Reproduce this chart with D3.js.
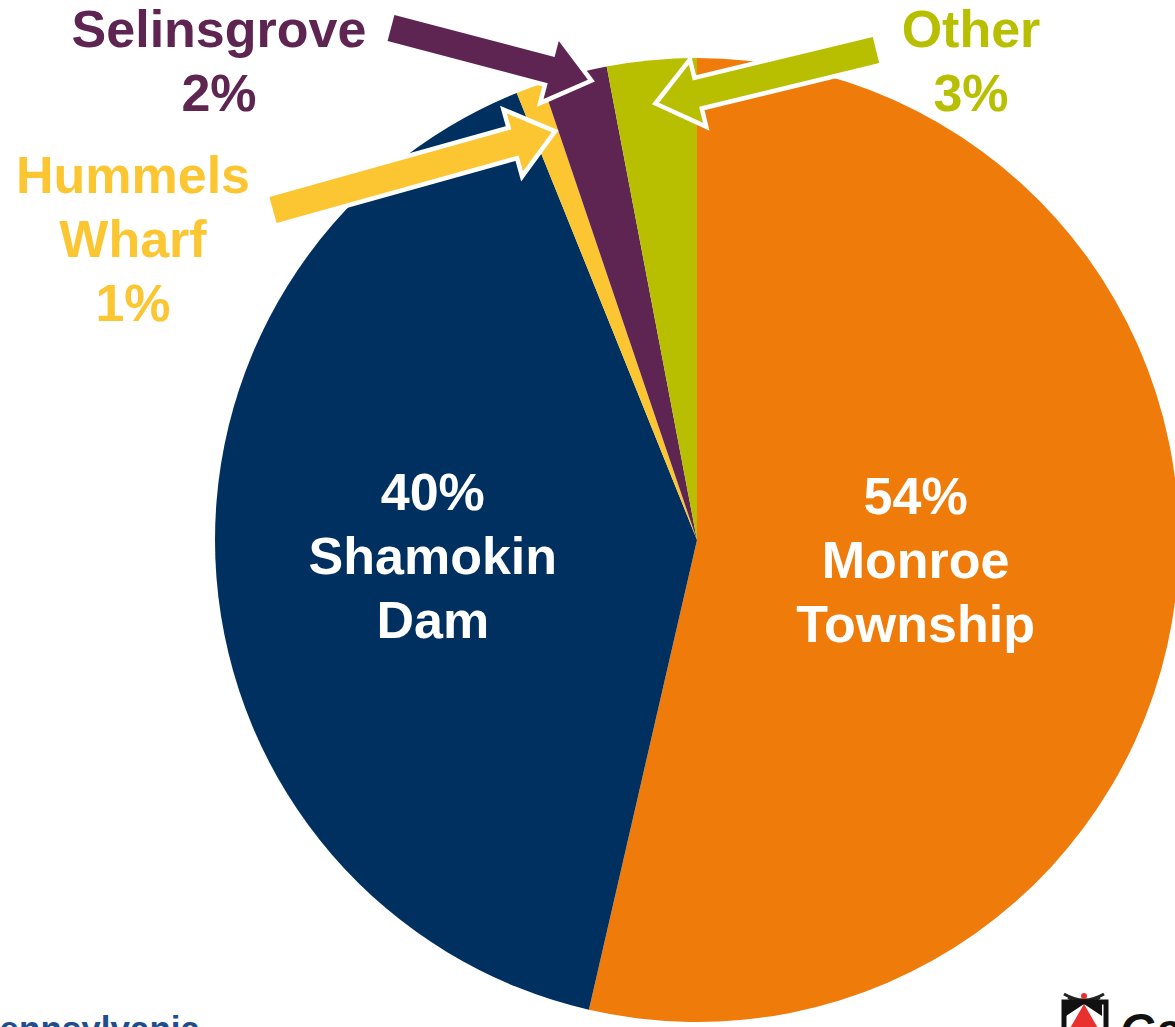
<!DOCTYPE html>
<html>
<head>
<meta charset="utf-8">
<script src="https://cdn.jsdelivr.net/npm/d3@7"></script>
<style>
  html, body { margin: 0; padding: 0; background: #fff; overflow: hidden; }
  svg { display: block; }
</style>
</head>
<body>
<div id="resultDiv"></div>
<script>
// slice order, clockwise from 12 o'clock
const places = ["Monroe Township", "Shamokin Dam", "Hummels Wharf", "Selinsgrove", "Other"];
const shares = [53.6, 40.3, 0.9, 2.2, 3.0];
const shareLabels = ["54%", "40%", "1%", "2%", "3%"]; // as printed
const labelLines = [
  ["54%", "Monroe", "Township"],
  ["40%", "Shamokin", "Dam"],
  ["Hummels", "Wharf", "1%"],
  ["Selinsgrove", "2%"],
  ["Other", "3%"]
];
const colors = ["#EF7B0B", "#003060", "#FBC631", "#5F2552", "#B7BF00"];

const width = 1175;
const height = 1027;
const cx = 697, cy = 540, radius = 482;

// inside labels: radius of label centroid
const insideLabelRadius = { 0: 220, 1: 265 };
// outside labels + arrows
const callouts = {
  2: { label: [133, 193], tail: [273, 210], t: 0.72, r: 433 },
  3: { label: [219, 47], tail: [391, 28], t: 0.68, r: 473 },
  4: { label: [971, 47], tail: [876, 50], t: 0.54, r: 439 }
};

const font = "Arial, 'Liberation Sans', Helvetica, sans-serif";
const lineGap = 64;

const svg = d3.select("#resultDiv")
  .append("svg")
  .attr("width", width)
  .attr("height", height);

const data = places.map((p, i) => ({ place: p, value: shares[i], idx: i }));

const pie = d3.pie().sort(null).value(d => d.value);
const arcs = pie(data);

const arc = d3.arc().innerRadius(0).outerRadius(radius);

const g = svg.append("g").attr("transform", "translate(" + cx + "," + cy + ")");

g.selectAll("path.slice")
  .data(arcs)
  .join("path")
  .attr("class", "slice")
  .attr("fill", d => colors[d.data.idx])
  .attr("d", arc);

// labels inside the two big slices
arcs.filter(d => insideLabelRadius[d.data.idx] !== undefined).forEach(d => {
  const r = insideLabelRadius[d.data.idx];
  const c = d3.arc().innerRadius(r).outerRadius(r).centroid(d);
  const t = g.append("text")
    .attr("text-anchor", "middle")
    .attr("font-family", font)
    .attr("font-weight", "bold")
    .attr("font-size", 52)
    .attr("fill", "#fff");
  labelLines[d.data.idx].forEach((line, k) => {
    t.append("tspan")
      .attr("x", c[0])
      .attr("y", c[1] + 13 + (k - 1) * lineGap)
      .text(line);
  });
});

// arrows for the small slices
function arrowPath(tail, tip) {
  const dx = tip[0] - tail[0], dy = tip[1] - tail[1];
  const len = Math.hypot(dx, dy);
  const ux = dx / len, uy = dy / len;
  const nx = -uy, ny = ux;
  const shaft = 13.5, head = 30, headLen = 38;
  const bx = tip[0] - ux * headLen, by = tip[1] - uy * headLen;
  const pts = [
    [tail[0] + nx * shaft, tail[1] + ny * shaft],
    [bx + nx * shaft, by + ny * shaft],
    [bx + nx * head, by + ny * head],
    tip,
    [bx - nx * head, by - ny * head],
    [bx - nx * shaft, by - ny * shaft],
    [tail[0] - nx * shaft, tail[1] - ny * shaft]
  ];
  return d3.line()(pts) + "Z";
}

arcs.filter(d => callouts[d.data.idx]).forEach(d => {
  const c = callouts[d.data.idx];
  const a = d.startAngle + (d.endAngle - d.startAngle) * c.t;
  const tip = [cx + c.r * Math.sin(a), cy - c.r * Math.cos(a)];

  svg.append("path")
    .attr("d", arrowPath(c.tail, tip))
    .attr("fill", colors[d.data.idx])
    .attr("stroke", "#fff")
    .attr("stroke-width", 9)
    .attr("stroke-linejoin", "miter")
    .attr("stroke-miterlimit", 10)
    .attr("paint-order", "stroke");

  const t = svg.append("text")
    .attr("text-anchor", "middle")
    .attr("font-family", font)
    .attr("font-weight", "bold")
    .attr("font-size", 52)
    .attr("fill", colors[d.data.idx]);
  labelLines[d.data.idx].forEach((line, k) => {
    t.append("tspan")
      .attr("x", c.label[0])
      .attr("y", c.label[1] + k * lineGap)
      .text(line);
  });
});

// page footer bits (cut off by the slide edge)
svg.append("text")
  .attr("x", 200)
  .attr("y", 1041)
  .attr("text-anchor", "end")
  .attr("font-family", font)
  .attr("font-weight", "bold")
  .attr("font-size", 35)
  .attr("fill", "#1F4E8C")
  .text("Pennsylvania");

const logo = svg.append("g");
logo.append("path")
  .attr("d", "M1064,994 Q1084,1006 1104,994")
  .attr("fill", "none")
  .attr("stroke", "#222")
  .attr("stroke-width", 3);
logo.append("path")
  .attr("d", "M1068,998 Q1084,1008 1100,998")
  .attr("fill", "none")
  .attr("stroke", "#222")
  .attr("stroke-width", 2);
logo.append("circle").attr("cx", 1084).attr("cy", 996).attr("r", 3).attr("fill", "#E8312F");
logo.append("rect")
  .attr("x", 1064).attr("y", 1002).attr("width", 42).attr("height", 40)
  .attr("fill", "#fff").attr("stroke", "#111").attr("stroke-width", 5);
logo.append("path")
  .attr("d", "M1084,1004 L1069,1030 L1099,1030 Z")
  .attr("fill", "#E8312F");
logo.append("path")
  .attr("d", "M1066,1016 L1084,1004 L1066,1004 Z M1102,1016 L1084,1004 L1102,1004 Z")
  .attr("fill", "#111");

svg.append("text")
  .attr("x", 1120)
  .attr("y", 1046)
  .attr("font-family", font)
  .attr("font-weight", "bold")
  .attr("font-style", "italic")
  .attr("font-size", 46)
  .attr("fill", "#111")
  .text("Gannett Fleming");
</script>
</body>
</html>
